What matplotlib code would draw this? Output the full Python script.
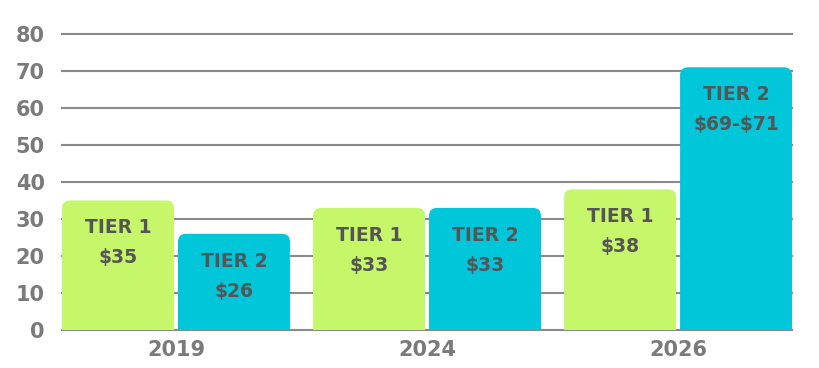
import numpy as np
import matplotlib.pyplot as plt
from matplotlib.patches import FancyBboxPatch

# chart data
years = ["2019", "2024", "2026"]
tier1_values = [35, 33, 38]
tier2_values = [26, 33, 71]
tier1_labels = ["$35", "$33", "$38"]
tier2_labels = ["$26", "$33", "$69-$71"]

GREEN = "#c6f66a"
CYAN = "#00c6da"
GRID = "#8a8a8a"
TICK_GRAY = "#7a7a7a"
LABEL_GRAY = "#555555"

plt.rcParams["font.family"] = ["DejaVu Sans"]
plt.rcParams["text.parse_math"] = False  # keep the $ signs literal

fig = plt.figure(figsize=(8.2, 3.68), dpi=100)
ax = fig.add_axes([0.0756, 0.1033, 0.8903, 0.8043])

x = np.arange(len(years))
width = 0.446
offset = 0.231

bars1 = ax.bar(x - offset, tier1_values, width, color=GREEN, zorder=2)
bars2 = ax.bar(x + offset, tier2_values, width, color=CYAN, zorder=2)


def round_tops(bars, color):
    # swap square bars for ones with rounded top corners
    for b in bars:
        bx, bw, bh = b.get_x(), b.get_width(), b.get_height()
        b.set_visible(False)
        patch = FancyBboxPatch((bx, -5), bw, bh + 5,
                               boxstyle="round,pad=0,rounding_size=0.032",
                               mutation_aspect=67.5,
                               facecolor=color, edgecolor="none", zorder=2)
        ax.add_patch(patch)


round_tops(bars1, GREEN)
round_tops(bars2, CYAN)


def bar_text(bars, tier, labels):
    for b, lab in zip(bars, labels):
        cx = b.get_x() + b.get_width() / 2
        top = b.get_height()
        ax.text(cx, top - 7.4, tier, ha="center", va="center",
                fontsize=13.5, fontweight="bold", color=LABEL_GRAY, zorder=3)
        ax.text(cx, top - 15.5, lab, ha="center", va="center",
                fontsize=13.5, fontweight="bold", color=LABEL_GRAY, zorder=3)


bar_text(bars1, "TIER 1", tier1_labels)
bar_text(bars2, "TIER 2", tier2_labels)

ax.set_xlim(-0.454, 2.454)
ax.set_ylim(0, 80)
ax.set_yticks(range(0, 81, 10))
ax.set_xticks(x)
ax.set_xticklabels(years)

ax.yaxis.grid(True, color=GRID, linewidth=1.5, zorder=0)
ax.set_axisbelow(True)
for gl in ax.get_ygridlines():
    gl.set_clip_on(False)
for s in ax.spines.values():
    s.set_visible(False)
ax.tick_params(length=0)
ax.tick_params(axis="y", pad=12.5, labelsize=15, labelcolor=TICK_GRAY)
ax.tick_params(axis="x", pad=7, labelsize=15, labelcolor=TICK_GRAY)
for lbl in ax.get_xticklabels() + ax.get_yticklabels():
    lbl.set_fontweight("bold")

fig.savefig("out.png", dpi=100, facecolor="white")
